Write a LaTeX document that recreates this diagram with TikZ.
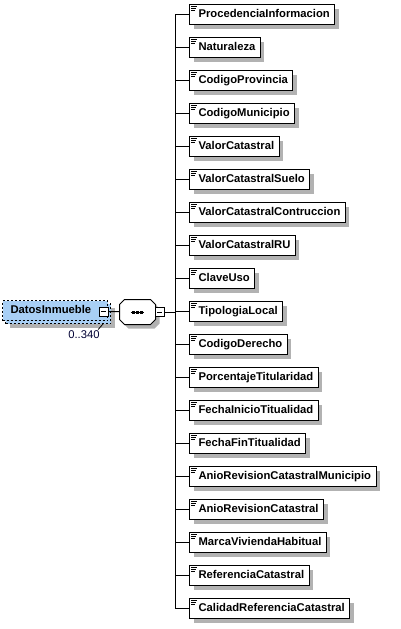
\documentclass[tikz,border=0pt]{standalone}
\usepackage{fontspec}
\setmainfont{Liberation Sans}
\usetikzlibrary{shadows}
\definecolor{elemblue}{rgb}{0.66,0.81,0.96}
\definecolor{shadowgray}{rgb}{0.70,0.70,0.70}
\tikzset{
  gshadow/.style={drop shadow={shadow xshift=4pt,shadow yshift=-4pt,fill=shadowgray,opacity=1}},
  elem/.style={draw,fill=white,anchor=west,inner sep=0pt,minimum height=20pt,
    text height=8pt,text depth=2pt,font=\fontsize{11.25}{13}\selectfont\bfseries,gshadow},
  rootbox/.style={draw,dash pattern=on 2pt off 2pt,fill=elemblue,anchor=north west,
    inner sep=0pt,minimum width=105pt,minimum height=20pt,
    text height=8pt,text depth=2pt,font=\fontsize{11.25}{13}\selectfont\bfseries},
  minusbox/.style={draw,fill=white,minimum size=9pt,inner sep=0pt,
    path picture={\draw ([xshift=2pt]path picture bounding box.west) -- ([xshift=-2pt]path picture bounding box.east);}},
  seqbox/.style={inner sep=0pt,minimum width=35pt,minimum height=24pt}
}
\begin{document}
\begin{tikzpicture}[x=1pt,y=-1pt,line width=1pt]
    \useasboundingbox (0,0) rectangle (400,629);
    % root element (optional, repeated)
    \node[rootbox,gshadow] (rootback) at (5,303) {};
    \node[rootbox] (root) at (2,300) {\makebox[105pt][l]{\hspace*{8pt}DatosInmueble}};
    \node[minusbox] (rootm) at (103.5,311.5) {};
    \node[font=\fontsize{11.25}{13}\selectfont,text=black!80!blue,inner sep=0pt] (rootocc) at (84,335) {0..340};
    \draw[line width=0.8pt] ([xshift=-0.5pt]rootback.south -| rootm.south) -- ([xshift=-2pt,yshift=1pt]rootocc.north east);
    % sequence
    \node[seqbox] (seq) at (137.5,312) {};
    \foreach \s/\col/\dr in {4/shadowgray/none,0/white/black}
      \filldraw[fill=\col,draw=\dr]
        ([xshift=5pt+\s pt,yshift=-\s pt]seq.north west) -- ([xshift=-5pt+\s pt,yshift=-\s pt]seq.north east)
        -- ([xshift=\s pt,yshift=-5pt-\s pt]seq.north east) -- ([xshift=\s pt,yshift=5pt-\s pt]seq.south east)
        -- ([xshift=-5pt+\s pt,yshift=-\s pt]seq.south east) -- ([xshift=5pt+\s pt,yshift=-\s pt]seq.south west)
        -- ([xshift=\s pt,yshift=5pt-\s pt]seq.south west) -- ([xshift=\s pt,yshift=-5pt-\s pt]seq.north west) -- cycle;
    \draw ([xshift=-7pt]seq.center) -- ([xshift=6pt]seq.center);
    \foreach \dx in {-4,0,4}
      \fill ([xshift=\dx pt]seq.center) ++(-1.5,-1.5) rectangle ++(3,3);
    \node[minusbox] (seqm) at (159.5,312) {};
    \draw (rootm) -- (seq);
    \coordinate (spine) at (175,312);
    \draw (seqm) -- (spine);
    % children
    \foreach \name [count=\i] in {ProcedenciaInformacion,Naturaleza,CodigoProvincia,CodigoMunicipio,ValorCatastral,ValorCatastralSuelo,ValorCatastralContruccion,ValorCatastralRU,ClaveUso,TipologiaLocal,CodigoDerecho,PorcentajeTitularidad,FechaInicioTitualidad,FechaFinTitualidad,AnioRevisionCatastralMunicipio,AnioRevisionCatastral,MarcaViviendaHabitual,ReferenciaCatastral,CalidadReferenciaCatastral}{
      \node[elem] (e\i) at (189,{14.5+33*(\i-1)}) {\hspace*{9pt}\name\hspace*{5pt}};
      \draw[line width=0.8pt] ([xshift=2pt,yshift=-2pt]e\i.north west) -- ++(6,0);
      \draw[line width=0.8pt] ([xshift=2pt,yshift=-4pt]e\i.north west) -- ++(5,0);
      \draw[line width=0.8pt] ([xshift=2pt,yshift=-6pt]e\i.north west) -- ++(4,0);
      \draw (e\i.west -| spine) -- (e\i.west);
    }
    \draw (e1.west -| spine) -- (e19.west -| spine);
\end{tikzpicture}
\end{document}
